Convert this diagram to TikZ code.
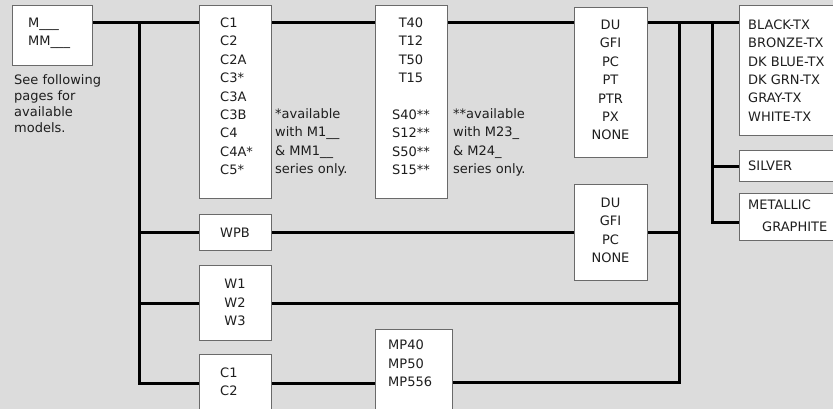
\documentclass[tikz,border=0pt]{standalone}
\usepackage{fontspec}
\setmainfont{DejaVu Sans}
\definecolor{bg}{HTML}{DCDCDC}
\definecolor{bord}{HTML}{6A6A6A}
\definecolor{ink}{HTML}{1E1E1E}
\tikzset{
  box/.style={draw=bord, fill=white, line width=1.1pt, inner sep=0pt, anchor=north west},
  txt/.style={font=\fontsize{13}{18.4}\selectfont, text=ink, inner sep=0pt},
  wire/.style={line width=3pt, black},
}
\begin{document}
\begin{tikzpicture}[x=1pt,y=-1pt]
\useasboundingbox (0,0) rectangle (833,409);
\clip (0,0) rectangle (833,409);
\fill[bg] (0,0) rectangle (833,409);
% boxes
\node[box, minimum width=80pt, minimum height=60pt] (mbox) at (12,5) {};
\node[box, minimum width=72pt, minimum height=193pt] (cbox) at (199,5) {};
\node[box, minimum width=72pt, minimum height=193pt] (tbox) at (375,5) {};
\node[box, minimum width=73pt, minimum height=150pt] (du1) at (574,7) {};
\node[box, minimum width=120pt, minimum height=130pt] (colors) at (739,5) {};
\node[box, minimum width=120pt, minimum height=31pt] (silver) at (739,150) {};
\node[box, minimum width=120pt, minimum height=47pt] (metal) at (739,193) {};
\node[box, minimum width=72pt, minimum height=36pt] (wpb) at (199,214) {};
\node[box, minimum width=72pt, minimum height=75pt] (wbox) at (199,265) {};
\node[box, minimum width=73pt, minimum height=96pt] (du2) at (574,184) {};
\node[box, minimum width=72pt, minimum height=57pt] (c12) at (199,354) {};
\node[box, minimum width=77pt, minimum height=106pt] (mp) at (375,329) {};
% coordinates
\coordinate (rowA) at (0,23);
\coordinate (rowM) at (0,222);
\coordinate (t1) at (139,0);
\coordinate (t2) at (679,0);
\coordinate (t3) at (712,0);
% wires
\draw[wire] (mbox.east|-rowA) -- (cbox.west|-rowA);
\draw[wire] (t1|-rowA) |- (c12.west);
\draw[wire] (t1|-wpb.west) -- (wpb.west);
\draw[wire] (t1|-wbox.west) -- (wbox.west);
\draw[wire] (cbox.east|-rowA) -- (tbox.west|-rowA);
\draw[wire] (tbox.east|-rowA) -- (du1.west|-rowA);
\draw[wire] (du1.east|-rowA) -- (colors.west|-rowA);
\draw[wire] (wpb.east) -- (du2.west);
\draw[wire] (t2|-rowA) |- (mp.east);
\draw[wire] (du2.east) -- (t2|-du2.east);
\draw[wire] (wbox.east) -- (t2|-wbox.east);
\draw[wire] (c12.east) -- (mp.west|-c12.east);
\draw[wire] (t3|-rowA) |- (metal.west|-rowM);
\draw[wire] (t3|-silver.west) -- (silver.west);
% texts
\node[txt, align=left, anchor=west] (mtxt) at (28,33.5) {M\_\_\_\\MM\_\_\_};
\node[txt, align=left, anchor=north west, font=\fontsize{13}{16}\selectfont] (seetxt) at (14,74) {See following\\pages for\\available\\models.};
\node[txt, align=left, anchor=west] (ctxt) at (220,96.3) {C1\\C2\\C2A\\C3*\\C3A\\C3B\\C4\\C4A*\\C5*};
\node[txt, align=left, anchor=west] (note1) at (275,142.5) {*available\\with M1\_\_\\\& MM1\_\_\\series only.};
\node[txt, align=center] (ttxt) at (411,96.3) {T40\\T12\\T50\\T15\\[18.4pt]S40**\\S12**\\S50**\\S15**};
\node[txt, align=left, anchor=west] (note2) at (453,142.5) {**available\\with M23\_\\\& M24\_\\series only.};
\node[txt, align=center] (du1txt) at (610.5,80) {DU\\GFI\\PC\\PT\\PTR\\PX\\NONE};
\node[txt, align=left, anchor=west] (coltxt) at (748,70.5) {BLACK-TX\\BRONZE-TX\\DK BLUE-TX\\DK GRN-TX\\GRAY-TX\\WHITE-TX};
\node[txt, anchor=west] (silvtxt) at (748,166) {SILVER};
\node[txt, align=left, anchor=west] (mettxt) at (748,216) {METALLIC\\[3.6pt]\hspace*{14pt}GRAPHITE};
\node[txt] (wpbtxt) at (235,233) {WPB};
\node[txt, align=center] (wtxt) at (235,302.5) {W1\\W2\\W3};
\node[txt, align=center] (du2txt) at (610.5,230.5) {DU\\GFI\\PC\\NONE};
\node[txt, align=left, anchor=west] (c12txt) at (220,381.5) {C1\\C2};
\node[txt, align=left, anchor=west] (mptxt) at (388,363.5) {MP40\\MP50\\MP556};
\end{tikzpicture}
\end{document}
